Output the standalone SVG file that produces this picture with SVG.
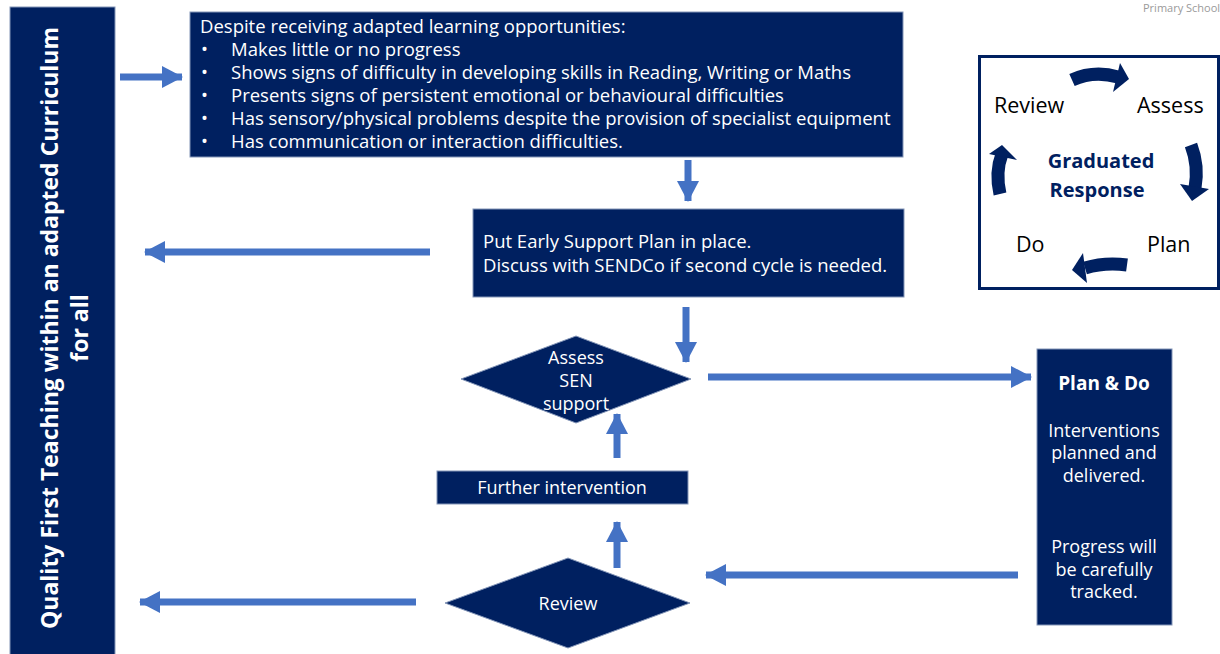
<svg xmlns="http://www.w3.org/2000/svg" width="1220" height="654" viewBox="0 0 1220 654">
<style>
.box{fill:#002060;stroke:#8496b8;stroke-width:1}
.t{font-family:"Open Sans","Noto Sans","DejaVu Sans",sans-serif;fill:#ffffff;font-size:18.5px}
.s{font-size:18px}
.c{text-anchor:middle}
.b{font-weight:bold}
.k{font-family:"Open Sans","Noto Sans","DejaVu Sans",sans-serif;fill:#000000;font-size:21.5px}
.con{stroke:#4472C4;stroke-width:7;fill:none}
.cyc{stroke:#002060;stroke-width:13;fill:none}
.hd{fill:#002060}
</style>
<defs>
<marker id="ah" markerUnits="userSpaceOnUse" markerWidth="22" markerHeight="24" refX="20" refY="12" orient="auto">
<path d="M0,1 L21,12 L0,23 z" fill="#4472C4"/>
</marker>
</defs>
<rect width="1220" height="654" fill="#ffffff"/>
<text x="1143" y="12" style="font-family:'Open Sans','Noto Sans',sans-serif;font-size:11px;fill:#9a9a9a">Primary School</text>

<g id="quality-first">
<rect class="box" x="10" y="7" width="105" height="660"/>
<text class="t b c" transform="translate(58,328) rotate(-90)" style="font-size:23px">Quality First Teaching within an adapted Curriculum</text>
<text class="t b c" transform="translate(88,328) rotate(-90)" style="font-size:23px">for all</text>
</g>

<g id="criteria">
<rect class="box" x="190" y="12" width="713" height="145"/>
<text class="t" x="200" y="33">Despite receiving adapted learning opportunities:</text>
<text class="t" x="201" y="56">•</text><text class="t" x="231" y="56">Makes little or no progress</text>
<text class="t" x="201" y="79">•</text><text class="t" x="231" y="79">Shows signs of difficulty in developing skills in Reading, Writing or Maths</text>
<text class="t" x="201" y="102">•</text><text class="t" x="231" y="102">Presents signs of persistent emotional or behavioural difficulties</text>
<text class="t" x="201" y="125">•</text><text class="t" x="231" y="125">Has sensory/physical problems despite the provision of specialist equipment</text>
<text class="t" x="201" y="148">•</text><text class="t" x="231" y="148">Has communication or interaction difficulties.</text>
</g>

<g id="early-support">
<rect class="box" x="473" y="209" width="431" height="88"/>
<text class="t" x="483" y="248">Put Early Support Plan in place.</text>
<text class="t" x="483" y="272">Discuss with SENDCo if second cycle is needed.</text>
</g>

<g id="assess-sen">
<polygon class="box" points="461,379 576,336 691,379 576,423"/>
<text class="t c s" x="576" y="364">Assess</text>
<text class="t c s" x="576" y="387">SEN</text>
<text class="t c s" x="576" y="410">support</text>
</g>

<g id="further-intervention">
<rect class="box" x="437" y="471" width="251" height="33"/>
<text class="t c s" x="562" y="494">Further intervention</text>
</g>

<g id="review">
<polygon class="box" points="445,603 568,558 690,603 568,648"/>
<text class="t c s" x="568" y="610">Review</text>
</g>

<g id="plan-do">
<rect class="box" x="1037" y="349" width="135" height="276"/>
<text class="t c b" x="1104" y="390" style="font-size:19px">Plan &amp; Do</text>
<text class="t c s" x="1104" y="437">Interventions</text>
<text class="t c s" x="1104" y="459">planned and</text>
<text class="t c s" x="1104" y="482">delivered.</text>
<text class="t c s" x="1104" y="553">Progress will</text>
<text class="t c s" x="1104" y="576">be carefully</text>
<text class="t c s" x="1104" y="598">tracked.</text>
</g>

<g id="graduated-response">
<rect x="979.5" y="56.5" width="239" height="232" fill="#ffffff" stroke="#002060" stroke-width="3"/>
<text class="k" x="994" y="113">Review</text>
<text class="k" x="1137" y="113">Assess</text>
<text class="k" x="1016" y="252">Do</text>
<text class="k" x="1147" y="252">Plan</text>
<text class="b c" x="1101" y="168" style="font-family:'Open Sans','Noto Sans',sans-serif;font-size:20px;fill:#002060">Graduated</text>
<text class="b c" x="1097" y="197" style="font-family:'Open Sans','Noto Sans',sans-serif;font-size:20px;fill:#002060">Response</text>
<path class="cyc" d="M1072,80 Q1094,70 1118,77"/>
<polygon class="hd" points="1120,63 1129,79 1113,92"/>
<path class="cyc" d="M1191,145 Q1199,166 1195,188"/>
<polygon class="hd" points="1180,184 1209,189 1192,201"/>
<path class="cyc" d="M1127,265 Q1105,262 1085,268"/>
<polygon class="hd" points="1083,253 1087,283 1072,270"/>
<path class="cyc" d="M1000,194 Q995,172 1002,154"/>
<polygon class="hd" points="989,154 1017,160 1002,145"/>
</g>

<g id="connectors">
<line class="con" x1="120" y1="77" x2="182" y2="77" marker-end="url(#ah)"/>
<line class="con" x1="688" y1="160" x2="688" y2="201" marker-end="url(#ah)"/>
<line class="con" x1="430" y1="252" x2="145" y2="252" marker-end="url(#ah)"/>
<line class="con" x1="686" y1="307" x2="686" y2="362" marker-end="url(#ah)"/>
<line class="con" x1="708" y1="377" x2="1031" y2="377" marker-end="url(#ah)"/>
<line class="con" x1="617" y1="458" x2="617" y2="414" marker-end="url(#ah)"/>
<line class="con" x1="617" y1="568" x2="617" y2="522" marker-end="url(#ah)"/>
<line class="con" x1="1018" y1="575" x2="706" y2="575" marker-end="url(#ah)"/>
<line class="con" x1="416" y1="602" x2="140" y2="602" marker-end="url(#ah)"/>
</g>
</svg>
